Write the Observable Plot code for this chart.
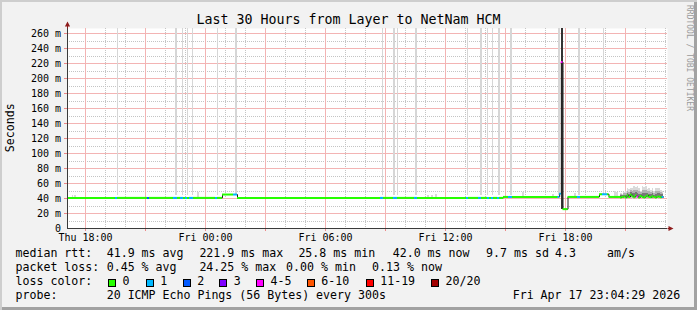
<!DOCTYPE html>
<html><head><meta charset="utf-8">
<script src="https://cdn.jsdelivr.net/npm/d3@7"></script>
<script src="https://cdn.jsdelivr.net/npm/@observablehq/plot@0.6"></script>
<style>
html,body{margin:0;padding:0;background:#f2f2f2;}
#chart{position:relative;width:697px;height:310px;background:#f2f2f2;box-shadow:inset 2px 2px 0 #cecece, inset -3px -3px 0 #a2a2a2;font-family:"DejaVu Sans Mono",monospace;color:#000;overflow:hidden;}
#chart svg{position:absolute;left:0;top:0;}
.t{position:absolute;white-space:pre;line-height:1;font-family:"DejaVu Sans Mono",monospace;}
.box{position:absolute;width:6px;height:6px;border:1px solid #000;}
</style></head>
<body><div id="chart"></div>
<script>
// ---------- data ----------
const titleText = "Last 30 Hours from Layer to NetNam HCM";
const yLabelText = "Seconds";
const watermark = "RRDTOOL / TOBI OETIKER";

const xTickHours = [0, 6, 12, 18, 24]; // hours after Thu 18:00
const xTickLabels = ["Thu 18:00", "Fri 00:00", "Fri 06:00", "Fri 12:00", "Fri 18:00"];
const yTicks = [0, 20, 40, 60, 80, 100, 120, 140, 160, 180, 200, 220, 240, 260];
const yTickLabels = ["0", "20 m", "40 m", "60 m", "80 m", "100 m", "120 m", "140 m", "160 m", "180 m", "200 m", "220 m", "240 m", "260 m"];

const lossColors = ["#26ff00", "#00b8ff", "#0059ff", "#7e00ff", "#ff00ff", "#ff5500", "#ff0000", "#a10000"];
const lossLabels = ["0", "1", "2", "3", "4-5", "6-10", "11-19", "20/20"];

// median rtt (ms) as runs: start hour, median, loss bucket
const segStart = [-0.9, 1.5, 1.6, 3.1, 3.2, 4.4, 4.6, 4.75, 4.9, 5.0, 5.1, 5.2, 5.4, 6.5, 6.6,
  6.85, 7.4,
  7.6, 14.75, 14.9, 15.4, 15.6, 16.45, 16.6, 19.05, 19.15, 19.65, 19.8, 20.1, 20.2, 20.3, 20.4, 20.6, 20.7,
  20.9, 21.15, 21.35, 23.625, 23.71, 23.79, 23.875, 24.125, 24.6, 24.75, 25.7, 25.85, 26.1, 26.175];
const segMedian = [40.8, 40.8, 40.8, 40.8, 40.8, 40.8, 40.8, 40.8, 40.8, 40.8, 40.8, 40.8, 40.8, 40.8, 40.8,
  45.3, 45.3,
  40.8, 40.8, 40.8, 40.8, 40.8, 40.8, 40.8, 40.8, 40.8, 40.8, 40.8, 40.8, 40.8, 40.8, 40.8, 40.8, 40.8,
  42.1, 42.1, 42.1, 42.1, 46.5, 221.9, 25.8, 42.1, 42.1, 42.1, 45.6, 45.6, 45.6, 42.1];
const segLoss = [0, 1, 0, 2, 0, 1, 0, 1, 0, 1, 0, 1, 0, 1, 0,
  0, 1,
  0, 1, 0, 1, 0, 1, 0, 1, 0, 1, 0, 1, 0, 1, 0, 1, 0,
  0, 1, 0, 1, 1, 4, 0, 0, 1, 0, 0, 1, 0, 0];

// last hours, one value per 5-minute step
const tailStart = 26.75;
const tailMedian = [41.5, 42.0, 42.6, 41.2, 44.2, 42.0, 45.0, 43.0, 41.8, 44.0, 42.6, 41.5, 43.4, 42.0, 41.2, 42.6, 44.0, 42.0, 41.6, 43.0, 42.0, 41.5, 42.6, 42.2, 41.6, 42.0];
const tailLoss = [0, 0, 0, 0, 0, 0, 0, 0, 0, 0, 4, 0, 0, 0, 0, 0, 0, 0, 0, 0, 0, 0, 0, 0, 0, 1];
const tailSmokeLo = [40, 40, 39.5, 39, 40, 39.5, 40, 39, 39.5, 40, 39, 39.5, 40, 39.5, 39, 40, 39.5, 40, 39, 39.5, 40, 39.5, 39, 40, 39.5, 40];
const tailSmokeHi = [47, 46, 48, 50, 53, 52, 54, 53, 56, 55, 56, 54, 50, 56, 55, 56, 52, 53, 51, 53, 49, 54, 53, 54, 51, 50];

// steps where some pings went off the top of the scale (centre hour)
const timeoutHours = [1.62, 4.55, 4.87, 5.12, 5.37, 6.62, 7.55, 14.87, 15.45, 15.62, 16.55, 19.12, 19.8, 20.12, 20.37, 20.7, 21.3, 23.7, 24.7, 25.92];
const timeoutLo = 44;

// small smoke elsewhere
const smokeHours = [-0.62, -0.5, 5.65, 17.15, 17.35, 17.55, 21.9, 23.4, 24.5, 26.5, 26.6];
const smokeHi = [44, 43.5, 48, 44.5, 44, 45, 48, 46, 46.5, 50, 48];

// legend statistics
const rttStats = [41.9, 221.9, 25.8, 42.0];
const statNames = ["avg", "max", "min", "now"];
const rttSd = 9.7, rttAmps = 4.3;
const lossStats = [0.45, 24.25, 0.00, 0.13];
const probeText = "20 ICMP Echo Pings (56 Bytes) every 300s";
const dateText = "Fri Apr 17 23:04:29 2026";

// ---------- build ----------
const stepH = 1 / 12;
const xDomain = [-0.9, 29.1];
const yMax = 800 / 3;
const majorColor = "#f3b4b4", minorColor = "#c4c4c4", axisColor = "#3a3a3a", arrowColor = "#8e1b1b";

const steps = [];
segStart.forEach((s, i) => steps.push({x1: s, x2: i < segStart.length - 1 ? segStart[i + 1] : tailStart, ms: segMedian[i], loss: segLoss[i]}));
tailMedian.forEach((m, i) => steps.push({x1: tailStart + i * stepH, x2: tailStart + (i + 1) * stepH, ms: m, loss: tailLoss[i]}));
const linePts = steps.map(d => ({x: d.x1, y: d.ms}));
linePts.push({x: steps[steps.length - 1].x2, y: steps[steps.length - 1].ms});

const spikeIdx = segMedian.indexOf(d3.max(segMedian));
const spike = [{x1: segStart[spikeIdx], x2: segStart[spikeIdx + 1], y1: segMedian[spikeIdx + 1], y2: yMax}];

const timeouts = timeoutHours.map(h => ({x1: h - stepH / 2, x2: h + stepH / 2, y1: timeoutLo, y2: yMax}));
const smallSmoke = smokeHours.map((h, i) => ({x1: h - stepH / 2, x2: h + stepH / 2, y1: 40, y2: smokeHi[i]}));
const tail = tailMedian.map((m, i) => ({x1: tailStart + i * stepH, x2: tailStart + (i + 1) * stepH, lo: tailSmokeLo[i], hi: tailSmokeHi[i], m}));

// grid positions
const gridHours = d3.range(0, 30);
const majorX = gridHours.filter(h => h % 3 === 0);
const minorX = gridHours.filter(h => h % 3 !== 0);
const majorY = yTicks.slice(1);
const minorY = yTicks.slice(0, -1).map(v => v + 10);

const arrowUp = {draw(c) { c.moveTo(0, -7); c.lineTo(2.6, -2); c.lineTo(0.5, -2); c.lineTo(0.5, 0); c.lineTo(-0.5, 0); c.lineTo(-0.5, -2); c.lineTo(-2.6, -2); c.closePath(); }};
const arrowRight = {draw(c) { c.moveTo(6, 0); c.lineTo(1, 2.6); c.lineTo(1, 0.5); c.lineTo(0, 0.5); c.lineTo(0, -0.5); c.lineTo(1, -0.5); c.lineTo(1, -2.6); c.closePath(); }};

const minorOpts = {stroke: minorColor, strokeDasharray: "1 1", shapeRendering: "crispEdges"};
const majorOpts = {stroke: majorColor, strokeWidth: 1, strokeOpacity: 1};

const plot = Plot.plot({
  width: 697, height: 244,
  marginLeft: 67, marginRight: 30, marginTop: 28, marginBottom: 16,
  style: {background: "transparent", fontFamily: "DejaVu Sans Mono", fontSize: "10px", color: "black", overflow: "visible"},
  x: {domain: xDomain},
  y: {domain: [0, yMax]},
  marks: [
    Plot.frame({fill: "white", stroke: "none"}),
    Plot.ruleY(minorY, minorOpts),
    Plot.ruleX(minorX, minorOpts),
    Plot.ruleY(majorY, majorOpts),
    Plot.ruleX(majorX, majorOpts),
    Plot.rect(timeouts, {x1: "x1", x2: "x2", y1: "y1", y2: "y2", fill: "#d6d6d6", shapeRendering: "crispEdges"}),
    Plot.rect(smallSmoke, {x1: "x1", x2: "x2", y1: "y1", y2: "y2", fill: "#d9d9d9", shapeRendering: "crispEdges"}),
    Plot.rect(tail, {x1: "x1", x2: "x2", y1: "lo", y2: "hi", fill: "#dadada", shapeRendering: "crispEdges"}),
    Plot.rect(tail, {x1: "x1", x2: "x2", y1: d => d.lo + 1, y2: d => d.m + (d.hi - d.m) * 0.65, fill: "#b0b0b0", shapeRendering: "crispEdges"}),
    Plot.rect(tail, {x1: "x1", x2: "x2", y1: d => d.m - 1, y2: d => d.m + (d.hi - d.m) * 0.35, fill: "#777", shapeRendering: "crispEdges"}),
    Plot.rect(spike, {x1: "x1", x2: "x2", y1: "y1", y2: "y2", fill: "#333", shapeRendering: "crispEdges"}),
    Plot.line(linePts, {x: "x", y: "y", curve: "step-after", stroke: "#202020", strokeWidth: 1}),
    Plot.ruleY(steps, {y: "ms", x1: "x1", x2: "x2", stroke: d => lossColors[d.loss], strokeWidth: 2}),
    Plot.axisX(majorX, {tickSize: 3, stroke: "#e88", tickFormat: () => "", label: null}),
    Plot.axisY(majorY, {tickSize: 3, stroke: "#e88", tickFormat: () => "", label: null}),
    Plot.ruleY([0], {stroke: axisColor}),
    Plot.ruleX([xDomain[0]], {stroke: axisColor}),
    Plot.dot([{x: xDomain[0], y: yMax}], {x: "x", y: "y", symbol: arrowUp, fill: arrowColor, stroke: "none", r: 3}),
    Plot.dot([{x: xDomain[1], y: 0}], {x: "x", y: "y", symbol: arrowRight, fill: arrowColor, stroke: "none", r: 3}),
    Plot.axisX(xTickHours, {tickSize: 0, tickPadding: 5, fontSize: 10, label: null, tickFormat: d => xTickLabels[xTickHours.indexOf(d)]}),
    Plot.axisY(yTicks, {tickSize: 0, tickPadding: 6.5, fontSize: 10, label: null, tickFormat: d => yTickLabels[yTicks.indexOf(d)]})
  ]
});

const chart = document.getElementById("chart");
chart.appendChild(plot);

function text(str, x, baseline, size, extra) {
  const el = document.createElement("div");
  el.className = "t";
  el.textContent = str;
  el.style.left = x + "px";
  el.style.top = (baseline - 0.846 * size) + "px";
  el.style.fontSize = size + "px";
  if (extra) Object.assign(el.style, extra);
  chart.appendChild(el);
  return el;
}

// title
text(titleText, 0, 23.8, 13.3, {width: "697px", textAlign: "center"});
// y label
text(yLabelText, -29, 127.5 + 4.0, 11.6, {width: "80px", textAlign: "center", transform: "rotate(-90deg)", transformOrigin: "40px 5.8px"});
// watermark
const wm = document.createElement("div");
wm.className = "t";
wm.textContent = watermark;
Object.assign(wm.style, {left: "684.5px", top: "5px", fontSize: "8px", color: "#9a9a9a", writingMode: "vertical-rl"});
chart.appendChild(wm);

// legend
const fs = 11.6;
const L1 = 258, L2 = 272, L3 = 286, L4 = 300;
text("median rtt:", 15.5, L1, fs);
const rttX = [106.7, 199.4, 298.4, 392.7];
rttStats.forEach((v, i) => text(v.toFixed(1) + " ms " + statNames[i], rttX[i], L1, fs));
text(rttSd.toFixed(1) + " ms sd", 486.1, L1, fs);
text(rttAmps.toFixed(1), 555.1, L1, fs);
text("am/s", 607.1, L1, fs);

text("packet loss:", 15.5, L2, fs);
const lossX = [106.7, 199.4, 286.1, 372.1];
lossStats.forEach((v, i) => text(v.toFixed(2) + " % " + statNames[i], lossX[i], L2, fs));

text("loss color:", 15.5, L3, fs);
const boxX = [108, 145.7, 182.7, 219.3, 256, 306.7, 365.7, 431];
lossLabels.forEach((lab, i) => {
  const b = document.createElement("div");
  b.className = "box";
  b.style.left = Math.round(boxX[i]) + "px";
  b.style.top = "279px";
  b.style.background = lossColors[i];
  chart.appendChild(b);
  text(lab, boxX[i] + 14.5, L3, fs);
});

text("probe:", 15.5, L4, fs);
text(probeText, 106.7, L4, fs);
text(dateText, 512.7, L4, fs);
</script>
</body></html>
